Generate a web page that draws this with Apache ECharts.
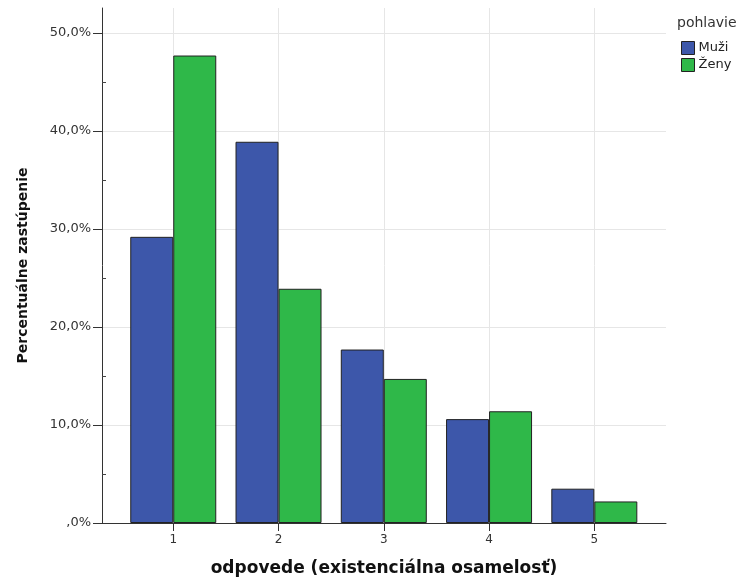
<!DOCTYPE html>
<html>
<head>
<meta charset="utf-8">
<script src="https://cdn.jsdelivr.net/npm/echarts@6/dist/echarts.min.js"></script>
<style>
html,body{margin:0;padding:0;background:#fff;}
#chart{width:741px;height:578px;}
</style>
</head>
<body>
<div id="chart"></div>
<script>
const categories = [1, 2, 3, 4, 5];
const seriesNames = ['Muži', 'Ženy'];
const muzi = [29.2, 38.9, 17.7, 10.6, 3.5];
const zeny = [47.7, 23.9, 14.7, 11.4, 2.2];
const yTicks = [0, 10, 20, 30, 40, 50];
const yMinorTicks = [5, 15, 25, 35, 45];

const fmtPct = v => {
  let s = v.toFixed(1).replace('.', ',');
  if (s.startsWith('0,')) s = s.substring(1);
  return s + '%';
};

const chart = echarts.init(document.getElementById('chart'), null, {renderer: 'canvas'});
const labelFont = 'DejaVu Sans, Verdana, sans-serif';
const titleFont = 'DejaVu Sans, Verdana, sans-serif';

chart.setOption({
  animation: false,
  backgroundColor: '#ffffff',
  color: ['#3d57aa', '#2fb849'],
  title: {
    text: 'pohlavie',
    left: 677, top: 16, padding: 0,
    textStyle: {fontFamily: labelFont, fontSize: 14, fontWeight: 'normal', color: '#333'}
  },
  legend: {
    orient: 'vertical',
    left: 681, top: 41, padding: 0,
    itemWidth: 13, itemHeight: 13, itemGap: 3,
    icon: 'rect',
    data: seriesNames,
    textStyle: {fontFamily: labelFont, fontSize: 13, color: '#222', padding: [0, 0, 0, -1]},
    itemStyle: {borderColor: '#222', borderWidth: 1}
  },
  grid: {left: 102, right: 75, top: 8, bottom: 55, containLabel: false, outerBoundsMode: 'none'},
  xAxis: [{
    type: 'value',
    min: 0.323, max: 5.681,
    name: 'odpovede (existenciálna osamelosť)',
    nameLocation: 'middle',
    nameGap: 37,
    nameTextStyle: {fontFamily: titleFont, fontSize: 17, fontWeight: 'bold', color: '#111'},
    axisLine: {show: true, lineStyle: {color: '#333', width: 1}},
    axisTick: {show: true, customValues: categories, length: 8, lineStyle: {color: '#333'}},
    axisLabel: {customValues: categories, fontFamily: labelFont, fontSize: 12, color: '#333', margin: 11,
      formatter: v => String(v)},
    splitLine: {show: true, lineStyle: {color: '#e6e6e6', width: 1}}
  }],
  yAxis: [{
    type: 'value',
    min: 0, max: 52.55,
    name: 'Percentuálne zastúpenie',
    nameLocation: 'middle',
    nameGap: 72,
    nameTextStyle: {fontFamily: titleFont, fontSize: 14, fontWeight: 'bold', color: '#111'},
    axisLine: {show: true, lineStyle: {color: '#333', width: 1}},
    axisTick: {show: true, customValues: yTicks, length: 9, lineStyle: {color: '#333'}},
    axisLabel: {customValues: yTicks, fontFamily: labelFont, fontSize: 13, color: '#333', margin: 11,
      formatter: v => fmtPct(v)},
    splitLine: {show: true, lineStyle: {color: '#e6e6e6', width: 1}}
  }, {
    type: 'value',
    min: 0, max: 52.55,
    position: 'left',
    axisLine: {show: false},
    axisTick: {show: true, inside: true, customValues: yMinorTicks, length: 4, lineStyle: {color: '#444'}},
    axisLabel: {show: false},
    splitLine: {show: false}
  }],
  series: [{
    name: seriesNames[0],
    type: 'bar',
    barWidth: 43,
    barGap: '0%',
    itemStyle: {borderColor: '#222', borderWidth: 1},
    data: categories.map((c, i) => [c, muzi[i]])
  }, {
    name: seriesNames[1],
    type: 'bar',
    barWidth: 43,
    barGap: '0%',
    itemStyle: {borderColor: '#222', borderWidth: 1},
    data: categories.map((c, i) => [c, zeny[i]])
  }]
});
</script>
</body>
</html>
